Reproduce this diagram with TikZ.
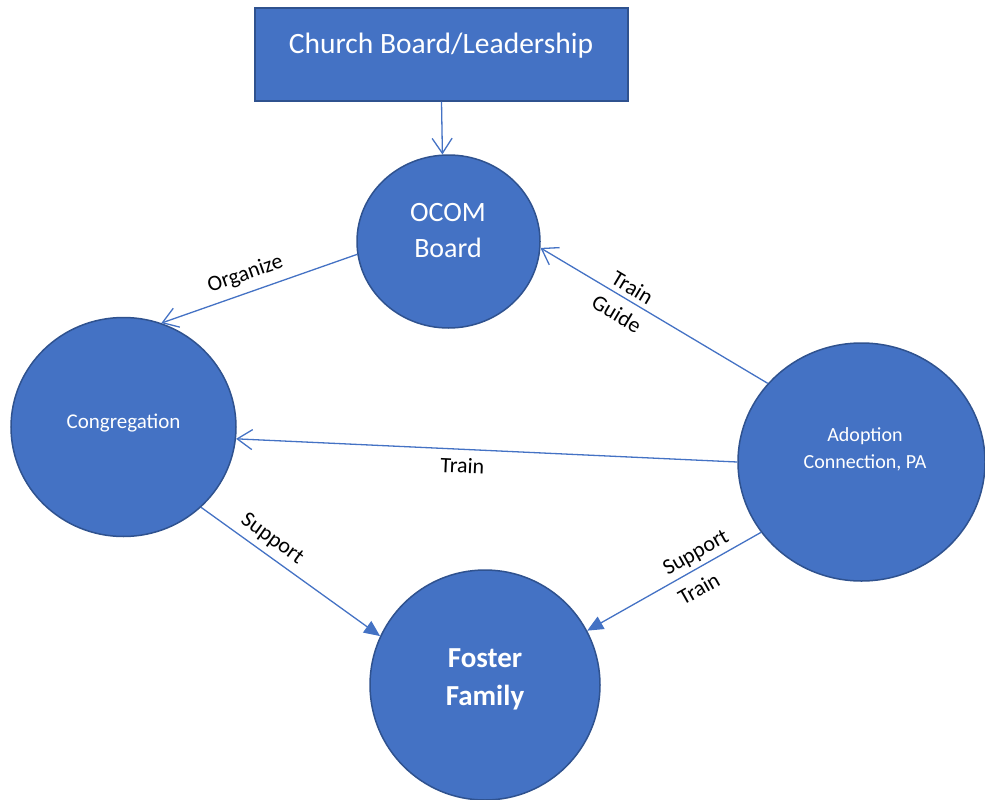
\documentclass[tikz,border=0pt]{standalone}
\usepackage{fontspec}
\setmainfont{Carlito}
\usetikzlibrary{shapes.geometric,arrows.meta}
\definecolor{ofblue}{HTML}{4472C4}
\definecolor{ofedge}{HTML}{2F528F}
\begin{document}
\begin{tikzpicture}[x=1pt,y=-1pt,
  blob/.style={ellipse, fill=ofblue, draw=ofedge, line width=1.5pt, inner sep=0pt},
  box/.style={rectangle, fill=ofblue, draw=ofedge, line width=1.5pt, inner sep=0pt},
  inner/.style={text=white, align=center, anchor=base, inner sep=0pt},
  link/.style={draw=ofblue, line width=1.3pt},
  opentip/.style={link, -{Straight Barb[length=15pt,width=20pt]}},
  filltip/.style={link, -{Triangle[length=16pt,width=14pt]}},
  lbl/.style={font=\fontsize{22}{26}\selectfont, sloped, inner sep=1pt}]
\useasboundingbox (0,0) rectangle (985,800);
\node[box, minimum width=373pt, minimum height=93pt] (board) at (441.5,54.5){};
\node[blob, minimum width=183pt, minimum height=173pt] (ocom) at (448.5,241.5){};
\node[blob, minimum width=225pt, minimum height=219pt] (cong) at (123.5,427){};
\node[blob, minimum width=247pt, minimum height=238pt] (adopt) at (861.5,462){};
\node[blob, minimum width=230pt, minimum height=230pt] (foster) at (485,685){};
\node[inner, font=\fontsize{29.5}{36}\selectfont] (boardtxt) at (441,53){Church Board/Leadership};
\node[inner, font=\fontsize{28}{36}\selectfont] (ocomtxt) at (448,257){OCOM\\Board};
\node[inner, font=\fontsize{21}{26}\selectfont] (congtxt) at (123.5,428){Congregation};
\node[inner, font=\fontsize{20}{27}\selectfont] (adopttxt) at (865,468){Adoption\\Connection, PA};
\node[inner, font=\bfseries\fontsize{29}{38}\selectfont] (fostertxt) at (485,705){Foster\\Family};
\draw[opentip] (board.south) -- (ocom.94);
\draw[opentip] (ocom.188) -- node[lbl, above=7pt, pos=0.54]{Organize} (cong.70);
\draw[opentip] (adopt.140) -- node[lbl, above=4pt, pos=0.625]{Train} node[lbl, below=8pt, pos=0.625]{Guide} (ocom.356);
\draw[opentip] (adopt.180) -- node[lbl, below=7pt, pos=0.547]{Train} (cong.354);
\draw[filltip] (cong.314) -- node[lbl, above=5pt, pos=0.346]{Support} (foster.155);
\draw[filltip] (adopt.215) -- node[lbl, above=3pt, pos=0.334]{Support} node[lbl, below=9pt, pos=0.41]{Train} (foster.28);
\end{tikzpicture}
\end{document}
